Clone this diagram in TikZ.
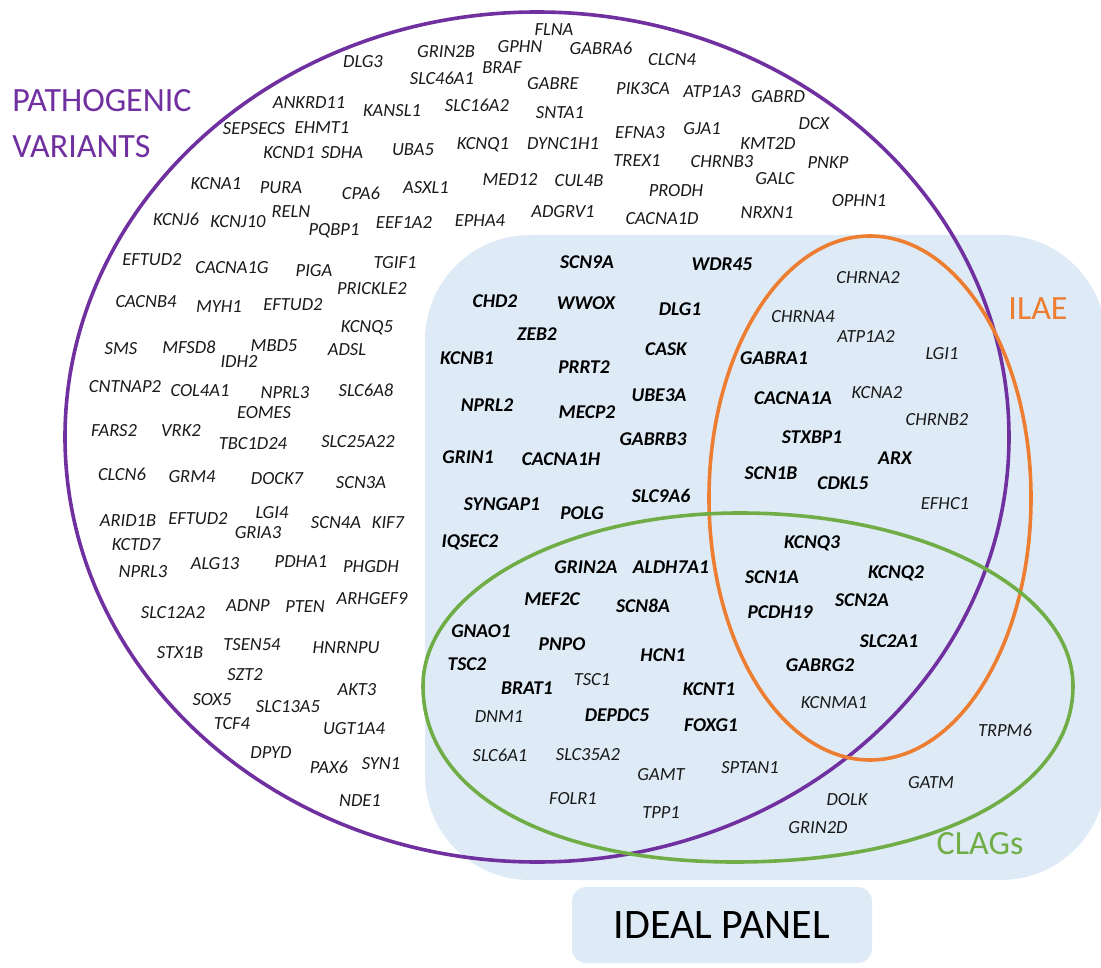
\documentclass[tikz,border=0pt]{standalone}
\usepackage{fontspec}
\setmainfont{Carlito}
\usetikzlibrary{positioning}
\definecolor{pvpurple}{HTML}{7030A0}
\definecolor{ilaeorange}{HTML}{ED7D31}
\definecolor{claggreen}{HTML}{70AD47}
\definecolor{panelblue}{HTML}{DEEBF7}
\tikzset{
  gene/.style={font=\fontsize{18.5}{18.5}\selectfont\itshape, text=black!90, inner sep=0pt, text height=11.9pt, text depth=0pt},
  genebold/.style={font=\fontsize{19.5}{19.5}\selectfont\bfseries\itshape, text=black, inner sep=0pt, text height=12.6pt, text depth=0pt},
  setlabel/.style={font=\fontsize{34}{46}\selectfont, inner sep=0pt}
}
\begin{document}
\begin{tikzpicture}[x=1pt, y=-1pt, thick]
        % panel, then the three sets on top
        \useasboundingbox (0,0) rectangle (1101,968);
        \fill[panelblue, rounded corners=105pt] (425,235) rectangle (1106,880);
        \draw[pvpurple, line width=3.6pt] (537,437) ellipse [x radius=472pt, y radius=425pt];
        \draw[ilaeorange, line width=3.6pt] (870,498) ellipse [x radius=161pt, y radius=262pt];
        \draw[claggreen, line width=3.6pt] (423,686) .. controls (423,590) and (565,513) .. (740,513)
              .. controls (924,513) and (1073,590) .. (1073,686)
              .. controls (1073,791) and (935,862) .. (735,862)
              .. controls (548,862) and (423,793) .. (423,686) -- cycle;

        \node (pv) [setlabel, text=pvpurple, align=left, anchor=north west] at (12,89) {PATHOGENIC\\VARIANTS};
        \node (ilae) [setlabel, text=ilaeorange] at (1038,309) {ILAE};
        \node (clags) [setlabel, text=claggreen] at (980,844) {CLAGs};
        \node (panel) [fill=panelblue, rounded corners=14pt, minimum width=300pt, minimum height=76pt, font=\fontsize{42}{42}\selectfont] at (722,925) {IDEAL PANEL};

        % pathogenic variants only
        \node (DLG3) [gene] at (363,62) {DLG3};
        \node (ANKRD11) [gene] at (309,103) {ANKRD11};
        \node (KANSL1) [gene] at (392,111) {KANSL1};
        \node (SEPSECS) [gene] at (254,129) {SEPSECS};
        \node (EHMT1) [gene] at (322,128) {EHMT1};
        \node (KCND1) [gene] at (289,153) {KCND1};
        \node (SDHA) [gene] at (342,153) {SDHA};
        \node (KCNA1) [gene] at (216,184) {KCNA1};
        \node (PURA) [gene] at (281,188) {PURA};
        \node (CPA6) [gene] at (361,194) {CPA6};
        \node (RELN) [gene] at (291,212) {RELN};
        \node (KCNJ6) [gene] at (176,220) {KCNJ6};
        \node (KCNJ10) [gene] at (238,222) {KCNJ10};
        \node (PQBP1) [gene] at (334,230) {PQBP1};
        \node (EFTUD2a) [gene] at (152,260) {EFTUD2};
        \node (CACNA1G) [gene] at (232,268) {CACNA1G};
        \node (PIGA) [gene] at (314,271) {PIGA};
        \node (CACNB4) [gene] at (146,302) {CACNB4};
        \node (MYH1) [gene] at (219,307) {MYH1};
        \node (EFTUD2b) [gene] at (293,305) {EFTUD2};
        \node (TGIF1) [gene] at (395,263) {TGIF1};
        \node (PRICKLE2) [gene] at (372,289) {PRICKLE2};
        \node (KCNQ5) [gene] at (367,327) {KCNQ5};
        \node (SMS) [gene] at (121,349) {SMS};
        \node (MFSD8) [gene] at (189,348) {MFSD8};
        \node (MBD5) [gene] at (274,346) {MBD5};
        \node (IDH2) [gene] at (239,362) {IDH2};
        \node (ADSL) [gene] at (347,350) {ADSL};
        \node (CNTNAP2) [gene] at (125,387) {CNTNAP2};
        \node (COL4A1) [gene] at (200,391) {COL4A1};
        \node (NPRL3a) [gene] at (285,393) {NPRL3};
        \node (SLC6A8) [gene] at (366,391) {SLC6A8};
        \node (EOMES) [gene] at (264,413) {EOMES};
        \node (FARS2) [gene] at (114,431) {FARS2};
        \node (VRK2) [gene] at (181,431) {VRK2};
        \node (TBC1D24) [gene] at (253,444) {TBC1D24};
        \node (SLC25A22) [gene] at (358,442) {SLC25A22};
        \node (CLCN6) [gene] at (122,475) {CLCN6};
        \node (GRM4) [gene] at (192,477) {GRM4};
        \node (DOCK7) [gene] at (277,479) {DOCK7};
        \node (SCN3A) [gene] at (361,483) {SCN3A};
        \node (ARID1B) [gene] at (128,521) {ARID1B};
        \node (EFTUD2c) [gene] at (198,519) {EFTUD2};
        \node (LGI4) [gene] at (272,513) {LGI4};
        \node (GRIA3) [gene] at (258,533) {GRIA3};
        \node (SCN4A) [gene] at (336,523) {SCN4A};
        \node (KIF7) [gene] at (388,523) {KIF7};
        \node (KCTD7) [gene] at (136,545) {KCTD7};
        \node (NPRL3b) [gene] at (143,572) {NPRL3};
        \node (ALG13) [gene] at (215,564) {ALG13};
        \node (PDHA1) [gene] at (301,562) {PDHA1};
        \node (PHGDH) [gene] at (371,567) {PHGDH};
        \node (SLC12A2) [gene] at (173,613) {SLC12A2};
        \node (ADNP) [gene] at (248,606) {ADNP};
        \node (PTEN) [gene] at (305,607) {PTEN};
        \node (ARHGEF9) [gene] at (372,599) {ARHGEF9};
        \node (STX1B) [gene] at (180,653) {STX1B};
        \node (TSEN54) [gene] at (252,645) {TSEN54};
        \node (HNRNPU) [gene] at (346,648) {HNRNPU};
        \node (SZT2) [gene] at (245,675) {SZT2};
        \node (SOX5) [gene] at (212,700) {SOX5};
        \node (AKT3) [gene] at (357,690) {AKT3};
        \node (SLC13A5) [gene] at (288,707) {SLC13A5};
        \node (TCF4) [gene] at (232,724) {TCF4};
        \node (UGT1A4) [gene] at (354,729) {UGT1A4};
        \node (DPYD) [gene] at (271,753) {DPYD};
        \node (PAX6) [gene] at (329,768) {PAX6};
        \node (SYN1) [gene] at (381,764) {SYN1};
        \node (NDE1) [gene] at (360,801) {NDE1};
        \node (FLNA) [gene] at (554,30) {FLNA};
        \node (GRIN2B) [gene] at (446,52) {GRIN2B};
        \node (GPHN) [gene] at (520,47) {GPHN};
        \node (GABRA6) [gene] at (601,49) {GABRA6};
        \node (CLCN4) [gene] at (672,60) {CLCN4};
        \node (BRAF) [gene] at (502,68) {BRAF};
        \node (SLC46A1) [gene] at (442,79) {SLC46A1};
        \node (GABRE) [gene] at (553,84) {GABRE};
        \node (PIK3CA) [gene] at (643,89) {PIK3CA};
        \node (ATP1A3) [gene] at (712,92) {ATP1A3};
        \node (GABRD) [gene] at (778,97) {GABRD};
        \node (SLC16A2) [gene] at (477,106) {SLC16A2};
        \node (SNTA1) [gene] at (560,113) {SNTA1};
        \node (EFNA3) [gene] at (640,133) {EFNA3};
        \node (GJA1) [gene] at (702,129) {GJA1};
        \node (UBA5) [gene] at (413,150) {UBA5};
        \node (KCNQ1) [gene] at (483,144) {KCNQ1};
        \node (DYNC1H1) [gene] at (563,144) {DYNC1H1};
        \node (TREX1) [gene] at (637,161) {TREX1};
        \node (CHRNB3) [gene] at (722,162) {CHRNB3};
        \node (KMT2D) [gene] at (768,144) {KMT2D};
        \node (DCX) [gene] at (814,124) {DCX};
        \node (PNKP) [gene] at (828,163) {PNKP};
        \node (GALC) [gene] at (775,179) {GALC};
        \node (OPHN1) [gene] at (859,201) {OPHN1};
        \node (NRXN1) [gene] at (767,213) {NRXN1};
        \node (ASXL1) [gene] at (426,188) {ASXL1};
        \node (MED12) [gene] at (510,180) {MED12};
        \node (CUL4B) [gene] at (579,181) {CUL4B};
        \node (PRODH) [gene] at (676,191) {PRODH};
        \node (EEF1A2) [gene] at (404,223) {EEF1A2};
        \node (EPHA4) [gene] at (480,221) {EPHA4};
        \node (ADGRV1) [gene] at (563,212) {ADGRV1};
        \node (CACNA1D) [gene] at (662,219) {CACNA1D};

        % ideal panel, plain
        \node (CHRNA2) [gene] at (868,278) {CHRNA2};
        \node (CHRNA4) [gene] at (803,317) {CHRNA4};
        \node (ATP1A2) [gene] at (866,337) {ATP1A2};
        \node (LGI1) [gene] at (942,354) {LGI1};
        \node (KCNA2) [gene] at (877,393) {KCNA2};
        \node (CHRNB2) [gene] at (937,420) {CHRNB2};
        \node (EFHC1) [gene] at (945,504) {EFHC1};
        \node (KCNMA1) [gene] at (834,703) {KCNMA1};
        \node (TRPM6) [gene] at (1005,731) {TRPM6};
        \node (SPTAN1) [gene] at (750,768) {SPTAN1};
        \node (GATM) [gene] at (931,783) {GATM};
        \node (DOLK) [gene] at (847,800) {DOLK};
        \node (GRIN2D) [gene] at (818,828) {GRIN2D};
        \node (TSC1) [gene] at (592,680) {TSC1};
        \node (DNM1) [gene] at (499,717) {DNM1};
        \node (SLC6A1) [gene] at (500,756) {SLC6A1};
        \node (SLC35A2) [gene] at (588,755) {SLC35A2};
        \node (GAMT) [gene] at (661,775) {GAMT};
        \node (FOLR1) [gene] at (573,799) {FOLR1};
        \node (TPP1) [gene] at (661,813) {TPP1};

        % ideal panel, bold
        \node (SCN9A) [genebold] at (587,262) {SCN9A};
        \node (WDR45) [genebold] at (722,264) {WDR45};
        \node (CHD2) [genebold] at (495,301) {CHD2};
        \node (WWOX) [genebold] at (586,303) {WWOX};
        \node (DLG1) [genebold] at (680,309) {DLG1};
        \node (ZEB2) [genebold] at (537,334) {ZEB2};
        \node (CASK) [genebold] at (666,349) {CASK};
        \node (KCNB1) [genebold] at (467,358) {KCNB1};
        \node (PRRT2) [genebold] at (584,367) {PRRT2};
        \node (UBE3A) [genebold] at (659,395) {UBE3A};
        \node (NPRL2) [genebold] at (487,405) {NPRL2};
        \node (MECP2) [genebold] at (587,412) {MECP2};
        \node (GABRB3) [genebold] at (653,439) {GABRB3};
        \node (GRIN1) [genebold] at (468,457) {GRIN1};
        \node (CACNA1H) [genebold] at (561,459) {CACNA1H};
        \node (SLC9A6) [genebold] at (661,496) {SLC9A6};
        \node (SYNGAP1) [genebold] at (502,504) {SYNGAP1};
        \node (POLG) [genebold] at (582,513) {POLG};
        \node (IQSEC2) [genebold] at (470,541) {IQSEC2};
        \node (GABRA1) [genebold] at (774,358) {GABRA1};
        \node (CACNA1A) [genebold] at (793,398) {CACNA1A};
        \node (STXBP1) [genebold] at (812,437) {STXBP1};
        \node (ARX) [genebold] at (895,458) {ARX};
        \node (SCN1B) [genebold] at (771,473) {SCN1B};
        \node (CDKL5) [genebold] at (843,483) {CDKL5};
        \node (KCNQ3) [genebold] at (812,542) {KCNQ3};
        \node (SCN1A) [genebold] at (772,577) {SCN1A};
        \node (KCNQ2) [genebold] at (896,572) {KCNQ2};
        \node (SCN2A) [genebold] at (862,600) {SCN2A};
        \node (PCDH19) [genebold] at (780,612) {PCDH19};
        \node (SLC2A1) [genebold] at (889,641) {SLC2A1};
        \node (GABRG2) [genebold] at (820,665) {GABRG2};
        \node (GRIN2A) [genebold] at (586,567) {GRIN2A};
        \node (ALDH7A1) [genebold] at (671,567) {ALDH7A1};
        \node (MEF2C) [genebold] at (552,599) {MEF2C};
        \node (SCN8A) [genebold] at (643,606) {SCN8A};
        \node (GNAO1) [genebold] at (481,631) {GNAO1};
        \node (PNPO) [genebold] at (562,644) {PNPO};
        \node (TSC2) [genebold] at (467,664) {TSC2};
        \node (HCN1) [genebold] at (663,655) {HCN1};
        \node (BRAT1) [genebold] at (527,688) {BRAT1};
        \node (KCNT1) [genebold] at (709,689) {KCNT1};
        \node (DEPDC5) [genebold] at (617,715) {DEPDC5};
        \node (FOXG1) [genebold] at (711,725) {FOXG1};
\end{tikzpicture}
\end{document}
